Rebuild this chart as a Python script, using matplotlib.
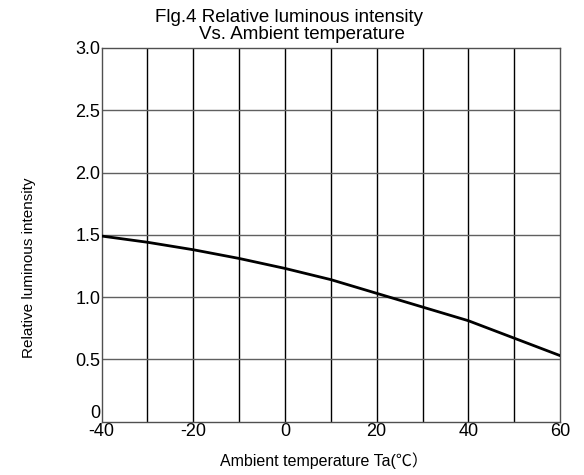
import matplotlib.pyplot as plt

# data
temps = [-40, -30, -20, -10, 0, 10, 20, 30, 40, 50, 60]
intensity = [1.49, 1.44, 1.38, 1.31, 1.23, 1.14, 1.03, 0.92, 0.81, 0.67, 0.53]

x_ticks = [-40, -20, 0, 20, 40, 60]
y_ticks = [0, 0.5, 1.0, 1.5, 2.0, 2.5, 3.0]
y_tick_labels = ['0', '0.5', '1.0', '1.5', '2.0', '2.5', '3.0']

FONT = ['Liberation Sans', 'Noto Sans CJK SC', 'DejaVu Sans']
plt.rcParams['font.family'] = FONT

fig = plt.figure(figsize=(5.84, 4.75), dpi=100)
ax = fig.add_axes([0.174, 0.1124, 0.785, 0.7866])

ax.set_xlim(-40, 60)
ax.set_ylim(0, 3.0)

# grid: vertical every 10, horizontal every 0.5
for xv in range(-30, 60, 10):
    ax.axvline(xv, color='black', linewidth=1.0, zorder=1)
for yv in y_ticks[1:-1]:
    ax.axhline(yv, color='#606060', linewidth=1.0, zorder=1)

ax.plot(temps, intensity, color='black', linewidth=2.0, zorder=3)

for sp in ax.spines.values():
    sp.set_color('#505050')
    sp.set_linewidth(1.0)

ax.set_xticks(x_ticks)
ax.set_xticklabels([str(t) for t in x_ticks], fontsize=13)
ax.set_yticks(y_ticks)
ax.set_yticklabels(y_tick_labels, fontsize=13)
ax.get_yticklabels()[0].set_va('bottom')  # the "0" sits above the -40
ax.tick_params(axis='both', length=0)
ax.tick_params(axis='x', pad=1)
ax.tick_params(axis='y', pad=1)

fig.text(0.495, 0.963, 'Flg.4 Relative luminous intensity', ha='center',
         va='center', fontsize=13.5)
fig.text(0.517, 0.928, 'Vs. Ambient temperature', ha='center',
         va='center', fontsize=13.5)

fig.text(0.555, 0.03, 'Ambient temperature Ta(℃）', ha='center', va='center',
         fontsize=11.5)
fig.text(0.05, 0.436, 'Relative luminous intensity', ha='center',
         va='center', rotation=90, fontsize=11)

fig.savefig('out.png', dpi=100, facecolor='white')
